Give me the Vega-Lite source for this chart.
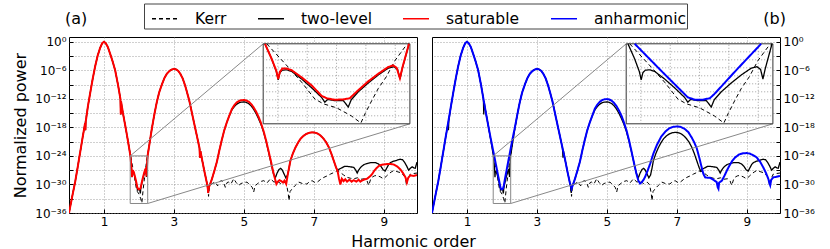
{
"$schema": "https://vega.github.io/schema/vega-lite/v6.json",
"padding": {"left": 12, "top": 3, "right": 0, "bottom": 0},
"bounds": "flush",
"spacing": 15,
"title": {"text": "Harmonic order", "orient": "bottom", "anchor": "middle", "fontSize": 16, "fontWeight": "normal", "font": "DejaVu Sans", "color": "black", "offset": 6},
"config": {
  "font": "DejaVu Sans",
  "view": {"stroke": "black", "strokeWidth": 1},
  "axis": {"labelFont": "DejaVu Sans", "labelFontSize": 12, "labelColor": "black", "gridColor": "#888", "gridDash": [1, 2], "gridWidth": 0.8, "domain": false, "tickColor": "black", "tickSize": -4, "labelPadding": 7, "titleFont": "DejaVu Sans", "titleFontSize": 16, "titleFontWeight": "normal", "titleColor": "black", "labelFlush": false, "labelOverlap": false},
  "title": {"font": "DejaVu Sans", "fontWeight": "normal", "fontSize": 16, "color": "black"}
},
"resolve": {"scale": {"color": "shared", "strokeDash": "shared"}},
"datasets": {
"zoom": [{"x1": 1.75, "x2": 2.25, "y1": 1e-34, "y2": 1e-24}],
"connectors": [{"x1": 1.75, "y1": 1e-24, "x2": 5.553, "y2": 0.372}, {"x1": 2.25, "y1": 1e-34, "x2": 9.748, "y2": 5.62e-18}],
"insetgridx": [{"harmonic": 1.8, "lo": 1e-34, "hi": 1e-24}, {"harmonic": 1.9, "lo": 1e-34, "hi": 1e-24}, {"harmonic": 2.0, "lo": 1e-34, "hi": 1e-24}, {"harmonic": 2.1, "lo": 1e-34, "hi": 1e-24}, {"harmonic": 2.2, "lo": 1e-34, "hi": 1e-24}],
"insetgridy": [{"power": 1e-25, "from": 1.75, "to": 2.25}, {"power": 1e-26, "from": 1.75, "to": 2.25}, {"power": 1e-27, "from": 1.75, "to": 2.25}, {"power": 1e-28, "from": 1.75, "to": 2.25}, {"power": 1e-29, "from": 1.75, "to": 2.25}, {"power": 1e-30, "from": 1.75, "to": 2.25}, {"power": 1e-31, "from": 1.75, "to": 2.25}, {"power": 1e-32, "from": 1.75, "to": 2.25}, {"power": 1e-33, "from": 1.75, "to": 2.25}],
"curves": [
{"model":"two-level","harmonic":0,"power":1e-36},
{"model":"two-level","harmonic":0.09,"power":2.51e-33},
{"model":"two-level","harmonic":0.18,"power":5.01e-30},
{"model":"two-level","harmonic":0.25,"power":5.01e-27},
{"model":"two-level","harmonic":0.32,"power":6.31e-24},
{"model":"two-level","harmonic":0.39,"power":7.94e-21},
{"model":"two-level","harmonic":0.46,"power":7.94e-18},
{"model":"two-level","harmonic":0.47,"power":2.51e-19},
{"model":"two-level","harmonic":0.48,"power":2e-17},
{"model":"two-level","harmonic":0.54,"power":2.51e-14},
{"model":"two-level","harmonic":0.61,"power":2.51e-11},
{"model":"two-level","harmonic":0.68,"power":2e-8},
{"model":"two-level","harmonic":0.75,"power":7.94e-6},
{"model":"two-level","harmonic":0.82,"power":1.26e-3},
{"model":"two-level","harmonic":0.89,"power":0.0501},
{"model":"two-level","harmonic":0.95,"power":0.501},
{"model":"two-level","harmonic":1,"power":1},
{"model":"two-level","harmonic":1.05,"power":0.501},
{"model":"two-level","harmonic":1.11,"power":0.0794},
{"model":"two-level","harmonic":1.18,"power":2.51e-3},
{"model":"two-level","harmonic":1.25,"power":6.31e-5},
{"model":"two-level","harmonic":1.32,"power":1e-6},
{"model":"two-level","harmonic":1.4,"power":1e-9},
{"model":"two-level","harmonic":1.47,"power":1e-12},
{"model":"two-level","harmonic":1.48,"power":5.01e-16},
{"model":"two-level","harmonic":1.49,"power":2.51e-13},
{"model":"two-level","harmonic":1.54,"power":1.26e-15},
{"model":"two-level","harmonic":1.61,"power":2e-18},
{"model":"two-level","harmonic":1.68,"power":2.51e-21},
{"model":"two-level","harmonic":1.756,"power":1e-24},
{"model":"two-level","harmonic":1.779,"power":1.26e-26},
{"model":"two-level","harmonic":1.795,"power":3.16e-28},
{"model":"two-level","harmonic":1.801,"power":3.16e-29},
{"model":"two-level","harmonic":1.807,"power":2.51e-28},
{"model":"two-level","harmonic":1.815,"power":5.01e-28},
{"model":"two-level","harmonic":1.83,"power":5.62e-28},
{"model":"two-level","harmonic":1.847,"power":3.55e-28},
{"model":"two-level","harmonic":1.881,"power":3.98e-29},
{"model":"two-level","harmonic":1.915,"power":3.16e-30},
{"model":"two-level","harmonic":1.949,"power":2e-31},
{"model":"two-level","harmonic":1.96,"power":5.01e-32},
{"model":"two-level","harmonic":1.97,"power":1.12e-31},
{"model":"two-level","harmonic":1.994,"power":7.94e-32},
{"model":"two-level","harmonic":2.023,"power":7.94e-32},
{"model":"two-level","harmonic":2.04,"power":1.26e-32},
{"model":"two-level","harmonic":2.05,"power":1e-31},
{"model":"two-level","harmonic":2.074,"power":1e-30},
{"model":"two-level","harmonic":2.108,"power":1.26e-29},
{"model":"two-level","harmonic":2.142,"power":1.26e-28},
{"model":"two-level","harmonic":2.176,"power":8.91e-28},
{"model":"two-level","harmonic":2.195,"power":1.41e-27},
{"model":"two-level","harmonic":2.208,"power":6.31e-28},
{"model":"two-level","harmonic":2.216,"power":3.98e-29},
{"model":"two-level","harmonic":2.224,"power":7.94e-28},
{"model":"two-level","harmonic":2.247,"power":1e-24},
{"model":"two-level","harmonic":2.3,"power":3.16e-22},
{"model":"two-level","harmonic":2.37,"power":6.31e-19},
{"model":"two-level","harmonic":2.44,"power":5.01e-16},
{"model":"two-level","harmonic":2.51,"power":2e-13},
{"model":"two-level","harmonic":2.58,"power":2.51e-11},
{"model":"two-level","harmonic":2.66,"power":1.26e-9},
{"model":"two-level","harmonic":2.73,"power":2.51e-8},
{"model":"two-level","harmonic":2.8,"power":2e-7},
{"model":"two-level","harmonic":2.88,"power":7.94e-7},
{"model":"two-level","harmonic":2.95,"power":1.58e-6},
{"model":"two-level","harmonic":3,"power":2e-6},
{"model":"two-level","harmonic":3.06,"power":1.58e-6},
{"model":"two-level","harmonic":3.12,"power":7.94e-7},
{"model":"two-level","harmonic":3.18,"power":2e-7},
{"model":"two-level","harmonic":3.25,"power":2e-8},
{"model":"two-level","harmonic":3.32,"power":6.31e-10},
{"model":"two-level","harmonic":3.37,"power":3.16e-11},
{"model":"two-level","harmonic":3.44,"power":3.98e-13},
{"model":"two-level","harmonic":3.51,"power":1.58e-15},
{"model":"two-level","harmonic":3.58,"power":6.31e-18},
{"model":"two-level","harmonic":3.66,"power":1.26e-20},
{"model":"two-level","harmonic":3.73,"power":5.01e-23},
{"model":"two-level","harmonic":3.745,"power":3.98e-25},
{"model":"two-level","harmonic":3.76,"power":1e-23},
{"model":"two-level","harmonic":3.8,"power":2.51e-25},
{"model":"two-level","harmonic":3.87,"power":6.31e-28},
{"model":"two-level","harmonic":3.94,"power":2.51e-30},
{"model":"two-level","harmonic":3.97,"power":1.26e-31},
{"model":"two-level","harmonic":3.98,"power":1.58e-32},
{"model":"two-level","harmonic":4,"power":2.51e-31},
{"model":"two-level","harmonic":4.08,"power":1e-29},
{"model":"two-level","harmonic":4.15,"power":5.01e-28},
{"model":"two-level","harmonic":4.23,"power":6.31e-26},
{"model":"two-level","harmonic":4.3,"power":1.58e-23},
{"model":"two-level","harmonic":4.37,"power":2.51e-21},
{"model":"two-level","harmonic":4.44,"power":2.51e-19},
{"model":"two-level","harmonic":4.51,"power":1e-17},
{"model":"two-level","harmonic":4.58,"power":2.51e-16},
{"model":"two-level","harmonic":4.66,"power":5.01e-15},
{"model":"two-level","harmonic":4.73,"power":2.51e-14},
{"model":"two-level","harmonic":4.8,"power":7.94e-14},
{"model":"two-level","harmonic":4.87,"power":1.58e-13},
{"model":"two-level","harmonic":4.93,"power":2e-13},
{"model":"two-level","harmonic":5,"power":2.24e-13},
{"model":"two-level","harmonic":5.07,"power":1.78e-13},
{"model":"two-level","harmonic":5.14,"power":1e-13},
{"model":"two-level","harmonic":5.21,"power":3.16e-14},
{"model":"two-level","harmonic":5.28,"power":6.31e-15},
{"model":"two-level","harmonic":5.35,"power":7.94e-16},
{"model":"two-level","harmonic":5.42,"power":6.31e-17},
{"model":"two-level","harmonic":5.49,"power":3.98e-18},
{"model":"two-level","harmonic":5.56,"power":1.26e-19},
{"model":"two-level","harmonic":5.63,"power":1.58e-21},
{"model":"two-level","harmonic":5.7,"power":1e-23},
{"model":"two-level","harmonic":5.77,"power":5.01e-26},
{"model":"two-level","harmonic":5.84,"power":2.51e-28},
{"model":"two-level","harmonic":5.9,"power":2.51e-29},
{"model":"two-level","harmonic":5.95,"power":2.51e-28},
{"model":"two-level","harmonic":6,"power":1.26e-27},
{"model":"two-level","harmonic":6.05,"power":2.51e-27},
{"model":"two-level","harmonic":6.1,"power":1e-27},
{"model":"two-level","harmonic":6.15,"power":1.58e-28},
{"model":"two-level","harmonic":6.2,"power":2.51e-29},
{"model":"two-level","harmonic":6.25,"power":1e-28},
{"model":"two-level","harmonic":6.29,"power":2.51e-27},
{"model":"two-level","harmonic":6.33,"power":1e-25},
{"model":"two-level","harmonic":6.4,"power":3.16e-24},
{"model":"two-level","harmonic":6.47,"power":5.01e-23},
{"model":"two-level","harmonic":6.55,"power":6.31e-22},
{"model":"two-level","harmonic":6.62,"power":3.98e-21},
{"model":"two-level","harmonic":6.7,"power":1.58e-20},
{"model":"two-level","harmonic":6.78,"power":3.98e-20},
{"model":"two-level","harmonic":6.86,"power":7.08e-20},
{"model":"two-level","harmonic":6.95,"power":8.91e-20},
{"model":"two-level","harmonic":7.03,"power":7.94e-20},
{"model":"two-level","harmonic":7.11,"power":5.01e-20},
{"model":"two-level","harmonic":7.19,"power":2e-20},
{"model":"two-level","harmonic":7.27,"power":5.01e-21},
{"model":"two-level","harmonic":7.35,"power":7.94e-22},
{"model":"two-level","harmonic":7.43,"power":6.31e-23},
{"model":"two-level","harmonic":7.5,"power":3.16e-24},
{"model":"two-level","harmonic":7.57,"power":1e-25},
{"model":"two-level","harmonic":7.63,"power":5.01e-27},
{"model":"two-level","harmonic":7.68,"power":6.31e-28},
{"model":"two-level","harmonic":7.72,"power":1.58e-27},
{"model":"two-level","harmonic":7.8,"power":3.16e-27},
{"model":"two-level","harmonic":7.88,"power":6.31e-27},
{"model":"two-level","harmonic":7.95,"power":6.31e-27},
{"model":"two-level","harmonic":8.05,"power":5.01e-27},
{"model":"two-level","harmonic":8.14,"power":3.98e-27},
{"model":"two-level","harmonic":8.2,"power":1e-27},
{"model":"two-level","harmonic":8.24,"power":2.51e-28},
{"model":"two-level","harmonic":8.28,"power":1e-27},
{"model":"two-level","harmonic":8.35,"power":5.01e-27},
{"model":"two-level","harmonic":8.44,"power":1.58e-26},
{"model":"two-level","harmonic":8.52,"power":2.51e-26},
{"model":"two-level","harmonic":8.64,"power":3.98e-26},
{"model":"two-level","harmonic":8.76,"power":3.98e-26},
{"model":"two-level","harmonic":8.85,"power":2e-26},
{"model":"two-level","harmonic":8.92,"power":6.31e-27},
{"model":"two-level","harmonic":8.98,"power":1.26e-27},
{"model":"two-level","harmonic":9.04,"power":6.31e-28},
{"model":"two-level","harmonic":9.09,"power":3.16e-27},
{"model":"two-level","harmonic":9.14,"power":1.58e-26},
{"model":"two-level","harmonic":9.19,"power":3.98e-26},
{"model":"two-level","harmonic":9.28,"power":7.94e-26},
{"model":"two-level","harmonic":9.38,"power":1.26e-25},
{"model":"two-level","harmonic":9.47,"power":2e-25},
{"model":"two-level","harmonic":9.54,"power":1.58e-25},
{"model":"two-level","harmonic":9.6,"power":3.98e-26},
{"model":"two-level","harmonic":9.66,"power":6.31e-27},
{"model":"two-level","harmonic":9.71,"power":1e-27},
{"model":"two-level","harmonic":9.76,"power":2.51e-27},
{"model":"two-level","harmonic":9.81,"power":5.01e-27},
{"model":"two-level","harmonic":9.86,"power":3.16e-27},
{"model":"two-level","harmonic":9.9,"power":2.51e-27},
{"model":"two-level","harmonic":9.95,"power":5.01e-26},

{"model":"saturable","harmonic":0,"power":1e-36},
{"model":"saturable","harmonic":0.09,"power":2.51e-33},
{"model":"saturable","harmonic":0.18,"power":5.01e-30},
{"model":"saturable","harmonic":0.25,"power":5.01e-27},
{"model":"saturable","harmonic":0.32,"power":6.31e-24},
{"model":"saturable","harmonic":0.39,"power":7.94e-21},
{"model":"saturable","harmonic":0.46,"power":7.94e-18},
{"model":"saturable","harmonic":0.47,"power":2.51e-19},
{"model":"saturable","harmonic":0.48,"power":2e-17},
{"model":"saturable","harmonic":0.54,"power":2.51e-14},
{"model":"saturable","harmonic":0.61,"power":2.51e-11},
{"model":"saturable","harmonic":0.68,"power":2e-8},
{"model":"saturable","harmonic":0.75,"power":7.94e-6},
{"model":"saturable","harmonic":0.82,"power":1.26e-3},
{"model":"saturable","harmonic":0.89,"power":0.0501},
{"model":"saturable","harmonic":0.95,"power":0.501},
{"model":"saturable","harmonic":1,"power":1},
{"model":"saturable","harmonic":1.05,"power":0.501},
{"model":"saturable","harmonic":1.11,"power":0.0794},
{"model":"saturable","harmonic":1.18,"power":2.51e-3},
{"model":"saturable","harmonic":1.25,"power":6.31e-5},
{"model":"saturable","harmonic":1.32,"power":1e-6},
{"model":"saturable","harmonic":1.4,"power":1e-9},
{"model":"saturable","harmonic":1.47,"power":1e-12},
{"model":"saturable","harmonic":1.48,"power":5.01e-16},
{"model":"saturable","harmonic":1.49,"power":2.51e-13},
{"model":"saturable","harmonic":1.54,"power":1.26e-15},
{"model":"saturable","harmonic":1.61,"power":2e-18},
{"model":"saturable","harmonic":1.68,"power":2.51e-21},
{"model":"saturable","harmonic":1.756,"power":1e-24},
{"model":"saturable","harmonic":1.779,"power":1.26e-26},
{"model":"saturable","harmonic":1.795,"power":3.98e-28},
{"model":"saturable","harmonic":1.801,"power":3.98e-29},
{"model":"saturable","harmonic":1.807,"power":3.16e-28},
{"model":"saturable","harmonic":1.815,"power":7.94e-28},
{"model":"saturable","harmonic":1.83,"power":7.94e-28},
{"model":"saturable","harmonic":1.847,"power":5.01e-28},
{"model":"saturable","harmonic":1.881,"power":6.31e-29},
{"model":"saturable","harmonic":1.915,"power":6.31e-30},
{"model":"saturable","harmonic":1.949,"power":3.16e-31},
{"model":"saturable","harmonic":1.966,"power":1.58e-31},
{"model":"saturable","harmonic":1.994,"power":1e-31},
{"model":"saturable","harmonic":2.023,"power":1.12e-31},
{"model":"saturable","harmonic":2.045,"power":1.58e-31},
{"model":"saturable","harmonic":2.074,"power":1.58e-30},
{"model":"saturable","harmonic":2.108,"power":2e-29},
{"model":"saturable","harmonic":2.142,"power":1.78e-28},
{"model":"saturable","harmonic":2.176,"power":1.26e-27},
{"model":"saturable","harmonic":2.193,"power":2e-27},
{"model":"saturable","harmonic":2.205,"power":1e-27},
{"model":"saturable","harmonic":2.216,"power":5.01e-29},
{"model":"saturable","harmonic":2.225,"power":1.26e-27},
{"model":"saturable","harmonic":2.247,"power":1e-24},
{"model":"saturable","harmonic":2.3,"power":3.16e-22},
{"model":"saturable","harmonic":2.37,"power":6.31e-19},
{"model":"saturable","harmonic":2.44,"power":5.01e-16},
{"model":"saturable","harmonic":2.51,"power":2e-13},
{"model":"saturable","harmonic":2.58,"power":2.51e-11},
{"model":"saturable","harmonic":2.66,"power":1.26e-9},
{"model":"saturable","harmonic":2.73,"power":2.51e-8},
{"model":"saturable","harmonic":2.8,"power":2e-7},
{"model":"saturable","harmonic":2.88,"power":7.94e-7},
{"model":"saturable","harmonic":2.95,"power":1.58e-6},
{"model":"saturable","harmonic":3,"power":2e-6},
{"model":"saturable","harmonic":3.06,"power":1.58e-6},
{"model":"saturable","harmonic":3.12,"power":7.94e-7},
{"model":"saturable","harmonic":3.18,"power":2e-7},
{"model":"saturable","harmonic":3.25,"power":2e-8},
{"model":"saturable","harmonic":3.32,"power":6.31e-10},
{"model":"saturable","harmonic":3.37,"power":3.16e-11},
{"model":"saturable","harmonic":3.44,"power":3.98e-13},
{"model":"saturable","harmonic":3.51,"power":1.58e-15},
{"model":"saturable","harmonic":3.58,"power":6.31e-18},
{"model":"saturable","harmonic":3.66,"power":1.26e-20},
{"model":"saturable","harmonic":3.73,"power":5.01e-23},
{"model":"saturable","harmonic":3.745,"power":3.98e-25},
{"model":"saturable","harmonic":3.76,"power":1e-23},
{"model":"saturable","harmonic":3.8,"power":2.51e-25},
{"model":"saturable","harmonic":3.87,"power":6.31e-28},
{"model":"saturable","harmonic":3.94,"power":2.51e-30},
{"model":"saturable","harmonic":3.97,"power":1.26e-31},
{"model":"saturable","harmonic":3.98,"power":1.58e-32},
{"model":"saturable","harmonic":4,"power":2.51e-31},
{"model":"saturable","harmonic":4.08,"power":1e-29},
{"model":"saturable","harmonic":4.15,"power":5.01e-28},
{"model":"saturable","harmonic":4.23,"power":6.31e-26},
{"model":"saturable","harmonic":4.3,"power":1.58e-23},
{"model":"saturable","harmonic":4.37,"power":2.51e-21},
{"model":"saturable","harmonic":4.44,"power":2.51e-19},
{"model":"saturable","harmonic":4.51,"power":1e-17},
{"model":"saturable","harmonic":4.58,"power":2.51e-16},
{"model":"saturable","harmonic":4.66,"power":7.94e-15},
{"model":"saturable","harmonic":4.73,"power":5.01e-14},
{"model":"saturable","harmonic":4.8,"power":2e-13},
{"model":"saturable","harmonic":4.87,"power":3.98e-13},
{"model":"saturable","harmonic":4.93,"power":5.01e-13},
{"model":"saturable","harmonic":5,"power":5.62e-13},
{"model":"saturable","harmonic":5.07,"power":4.47e-13},
{"model":"saturable","harmonic":5.14,"power":2.51e-13},
{"model":"saturable","harmonic":5.21,"power":7.94e-14},
{"model":"saturable","harmonic":5.28,"power":1.58e-14},
{"model":"saturable","harmonic":5.35,"power":2e-15},
{"model":"saturable","harmonic":5.42,"power":1.58e-16},
{"model":"saturable","harmonic":5.49,"power":7.94e-18},
{"model":"saturable","harmonic":5.56,"power":2e-19},
{"model":"saturable","harmonic":5.63,"power":2.51e-21},
{"model":"saturable","harmonic":5.7,"power":1.58e-23},
{"model":"saturable","harmonic":5.77,"power":1e-25},
{"model":"saturable","harmonic":5.84,"power":3.98e-28},
{"model":"saturable","harmonic":5.9,"power":7.94e-30},
{"model":"saturable","harmonic":5.93,"power":1.26e-30},
{"model":"saturable","harmonic":5.97,"power":3.98e-30},
{"model":"saturable","harmonic":6.02,"power":7.94e-30},
{"model":"saturable","harmonic":6.07,"power":5.01e-30},
{"model":"saturable","harmonic":6.12,"power":2.51e-30},
{"model":"saturable","harmonic":6.16,"power":6.31e-30},
{"model":"saturable","harmonic":6.19,"power":2.51e-30},
{"model":"saturable","harmonic":6.21,"power":1.26e-30},
{"model":"saturable","harmonic":6.25,"power":7.94e-29},
{"model":"saturable","harmonic":6.29,"power":2.51e-27},
{"model":"saturable","harmonic":6.33,"power":1e-25},
{"model":"saturable","harmonic":6.4,"power":3.16e-24},
{"model":"saturable","harmonic":6.47,"power":5.01e-23},
{"model":"saturable","harmonic":6.55,"power":6.31e-22},
{"model":"saturable","harmonic":6.62,"power":3.98e-21},
{"model":"saturable","harmonic":6.7,"power":1.58e-20},
{"model":"saturable","harmonic":6.78,"power":3.98e-20},
{"model":"saturable","harmonic":6.86,"power":7.08e-20},
{"model":"saturable","harmonic":6.95,"power":8.91e-20},
{"model":"saturable","harmonic":7.03,"power":7.94e-20},
{"model":"saturable","harmonic":7.11,"power":5.01e-20},
{"model":"saturable","harmonic":7.19,"power":2e-20},
{"model":"saturable","harmonic":7.27,"power":5.01e-21},
{"model":"saturable","harmonic":7.35,"power":7.94e-22},
{"model":"saturable","harmonic":7.43,"power":6.31e-23},
{"model":"saturable","harmonic":7.5,"power":3.16e-24},
{"model":"saturable","harmonic":7.57,"power":1e-25},
{"model":"saturable","harmonic":7.63,"power":5.01e-27},
{"model":"saturable","harmonic":7.68,"power":6.31e-28},
{"model":"saturable","harmonic":7.72,"power":1.58e-29},
{"model":"saturable","harmonic":7.76,"power":1e-30},
{"model":"saturable","harmonic":7.8,"power":1.58e-29},
{"model":"saturable","harmonic":7.85,"power":5.01e-30},
{"model":"saturable","harmonic":7.9,"power":1.26e-29},
{"model":"saturable","harmonic":7.95,"power":3.98e-30},
{"model":"saturable","harmonic":8.02,"power":1e-29},
{"model":"saturable","harmonic":8.08,"power":3.98e-30},
{"model":"saturable","harmonic":8.14,"power":7.94e-30},
{"model":"saturable","harmonic":8.22,"power":3.98e-30},
{"model":"saturable","harmonic":8.28,"power":1e-29},
{"model":"saturable","harmonic":8.33,"power":3.98e-30},
{"model":"saturable","harmonic":8.4,"power":7.94e-30},
{"model":"saturable","harmonic":8.46,"power":1.26e-29},
{"model":"saturable","harmonic":8.52,"power":1.58e-29},
{"model":"saturable","harmonic":8.59,"power":3.98e-29},
{"model":"saturable","harmonic":8.66,"power":1.26e-28},
{"model":"saturable","harmonic":8.73,"power":7.94e-28},
{"model":"saturable","harmonic":8.8,"power":3.16e-27},
{"model":"saturable","harmonic":8.88,"power":1e-26},
{"model":"saturable","harmonic":8.99,"power":1.58e-26},
{"model":"saturable","harmonic":9.1,"power":2e-26},
{"model":"saturable","harmonic":9.2,"power":2e-26},
{"model":"saturable","harmonic":9.28,"power":1.58e-26},
{"model":"saturable","harmonic":9.38,"power":6.31e-27},
{"model":"saturable","harmonic":9.47,"power":1.58e-27},
{"model":"saturable","harmonic":9.55,"power":2.51e-28},
{"model":"saturable","harmonic":9.62,"power":3.16e-29},
{"model":"saturable","harmonic":9.66,"power":2.51e-30},
{"model":"saturable","harmonic":9.7,"power":2.51e-29},
{"model":"saturable","harmonic":9.76,"power":7.94e-29},
{"model":"saturable","harmonic":9.85,"power":6.31e-29},
{"model":"saturable","harmonic":9.95,"power":1e-28},

{"model":"anharmonic","harmonic":0,"power":1e-36},
{"model":"anharmonic","harmonic":0.09,"power":2.51e-33},
{"model":"anharmonic","harmonic":0.18,"power":5.01e-30},
{"model":"anharmonic","harmonic":0.25,"power":5.01e-27},
{"model":"anharmonic","harmonic":0.32,"power":6.31e-24},
{"model":"anharmonic","harmonic":0.39,"power":7.94e-21},
{"model":"anharmonic","harmonic":0.46,"power":7.94e-18},
{"model":"anharmonic","harmonic":0.54,"power":2.51e-14},
{"model":"anharmonic","harmonic":0.61,"power":2.51e-11},
{"model":"anharmonic","harmonic":0.68,"power":2e-8},
{"model":"anharmonic","harmonic":0.75,"power":7.94e-6},
{"model":"anharmonic","harmonic":0.82,"power":1.26e-3},
{"model":"anharmonic","harmonic":0.89,"power":0.0501},
{"model":"anharmonic","harmonic":0.95,"power":0.501},
{"model":"anharmonic","harmonic":1,"power":1},
{"model":"anharmonic","harmonic":1.05,"power":0.501},
{"model":"anharmonic","harmonic":1.11,"power":0.0794},
{"model":"anharmonic","harmonic":1.18,"power":2.51e-3},
{"model":"anharmonic","harmonic":1.25,"power":6.31e-5},
{"model":"anharmonic","harmonic":1.32,"power":1e-6},
{"model":"anharmonic","harmonic":1.4,"power":1e-9},
{"model":"anharmonic","harmonic":1.47,"power":1e-12},
{"model":"anharmonic","harmonic":1.54,"power":1.26e-15},
{"model":"anharmonic","harmonic":1.61,"power":2e-18},
{"model":"anharmonic","harmonic":1.68,"power":3.98e-21},
{"model":"anharmonic","harmonic":1.779,"power":1e-24},
{"model":"anharmonic","harmonic":1.87,"power":3.98e-28},
{"model":"anharmonic","harmonic":1.96,"power":2e-31},
{"model":"anharmonic","harmonic":1.985,"power":1e-31},
{"model":"anharmonic","harmonic":2.01,"power":1e-31},
{"model":"anharmonic","harmonic":2.035,"power":1.58e-31},
{"model":"anharmonic","harmonic":2.05,"power":5.01e-31},
{"model":"anharmonic","harmonic":2.13,"power":7.94e-28},
{"model":"anharmonic","harmonic":2.21,"power":1e-24},
{"model":"anharmonic","harmonic":2.3,"power":3.16e-21},
{"model":"anharmonic","harmonic":2.37,"power":1e-18},
{"model":"anharmonic","harmonic":2.44,"power":5.01e-16},
{"model":"anharmonic","harmonic":2.51,"power":2e-13},
{"model":"anharmonic","harmonic":2.58,"power":2.51e-11},
{"model":"anharmonic","harmonic":2.66,"power":1.26e-9},
{"model":"anharmonic","harmonic":2.73,"power":2.51e-8},
{"model":"anharmonic","harmonic":2.8,"power":2e-7},
{"model":"anharmonic","harmonic":2.88,"power":7.94e-7},
{"model":"anharmonic","harmonic":2.95,"power":1.58e-6},
{"model":"anharmonic","harmonic":3,"power":2e-6},
{"model":"anharmonic","harmonic":3.06,"power":1.58e-6},
{"model":"anharmonic","harmonic":3.12,"power":7.94e-7},
{"model":"anharmonic","harmonic":3.18,"power":2e-7},
{"model":"anharmonic","harmonic":3.25,"power":2e-8},
{"model":"anharmonic","harmonic":3.32,"power":6.31e-10},
{"model":"anharmonic","harmonic":3.37,"power":3.16e-11},
{"model":"anharmonic","harmonic":3.44,"power":3.98e-13},
{"model":"anharmonic","harmonic":3.51,"power":1.58e-15},
{"model":"anharmonic","harmonic":3.58,"power":6.31e-18},
{"model":"anharmonic","harmonic":3.66,"power":1.26e-20},
{"model":"anharmonic","harmonic":3.73,"power":5.01e-23},
{"model":"anharmonic","harmonic":3.8,"power":2.51e-25},
{"model":"anharmonic","harmonic":3.87,"power":6.31e-28},
{"model":"anharmonic","harmonic":3.94,"power":2.51e-30},
{"model":"anharmonic","harmonic":3.99,"power":1.26e-31},
{"model":"anharmonic","harmonic":4.08,"power":1e-29},
{"model":"anharmonic","harmonic":4.15,"power":5.01e-28},
{"model":"anharmonic","harmonic":4.23,"power":6.31e-26},
{"model":"anharmonic","harmonic":4.3,"power":1.58e-23},
{"model":"anharmonic","harmonic":4.37,"power":2.51e-21},
{"model":"anharmonic","harmonic":4.44,"power":2.51e-19},
{"model":"anharmonic","harmonic":4.51,"power":1e-17},
{"model":"anharmonic","harmonic":4.58,"power":2.51e-16},
{"model":"anharmonic","harmonic":4.66,"power":1e-14},
{"model":"anharmonic","harmonic":4.73,"power":6.31e-14},
{"model":"anharmonic","harmonic":4.8,"power":2.51e-13},
{"model":"anharmonic","harmonic":4.87,"power":5.62e-13},
{"model":"anharmonic","harmonic":4.93,"power":7.94e-13},
{"model":"anharmonic","harmonic":5,"power":8.91e-13},
{"model":"anharmonic","harmonic":5.07,"power":7.08e-13},
{"model":"anharmonic","harmonic":5.14,"power":3.98e-13},
{"model":"anharmonic","harmonic":5.21,"power":1.26e-13},
{"model":"anharmonic","harmonic":5.28,"power":2.51e-14},
{"model":"anharmonic","harmonic":5.35,"power":3.16e-15},
{"model":"anharmonic","harmonic":5.42,"power":2.51e-16},
{"model":"anharmonic","harmonic":5.49,"power":1e-17},
{"model":"anharmonic","harmonic":5.56,"power":2.51e-19},
{"model":"anharmonic","harmonic":5.63,"power":2.51e-21},
{"model":"anharmonic","harmonic":5.7,"power":1.26e-23},
{"model":"anharmonic","harmonic":5.77,"power":5.01e-26},
{"model":"anharmonic","harmonic":5.84,"power":2.51e-28},
{"model":"anharmonic","harmonic":5.9,"power":6.31e-30},
{"model":"anharmonic","harmonic":5.95,"power":1.58e-30},
{"model":"anharmonic","harmonic":6,"power":3.16e-30},
{"model":"anharmonic","harmonic":6.05,"power":1e-29},
{"model":"anharmonic","harmonic":6.1,"power":5.01e-29},
{"model":"anharmonic","harmonic":6.17,"power":1e-27},
{"model":"anharmonic","harmonic":6.24,"power":2.51e-26},
{"model":"anharmonic","harmonic":6.33,"power":3.16e-24},
{"model":"anharmonic","harmonic":6.43,"power":2e-22},
{"model":"anharmonic","harmonic":6.55,"power":1e-20},
{"model":"anharmonic","harmonic":6.67,"power":1.26e-19},
{"model":"anharmonic","harmonic":6.78,"power":6.31e-19},
{"model":"anharmonic","harmonic":6.89,"power":1.26e-18},
{"model":"anharmonic","harmonic":7,"power":1.58e-18},
{"model":"anharmonic","harmonic":7.11,"power":1.26e-18},
{"model":"anharmonic","harmonic":7.22,"power":5.01e-19},
{"model":"anharmonic","harmonic":7.33,"power":1e-19},
{"model":"anharmonic","harmonic":7.43,"power":6.31e-21},
{"model":"anharmonic","harmonic":7.5,"power":6.31e-22},
{"model":"anharmonic","harmonic":7.57,"power":3.98e-23},
{"model":"anharmonic","harmonic":7.64,"power":5.01e-25},
{"model":"anharmonic","harmonic":7.71,"power":3.98e-27},
{"model":"anharmonic","harmonic":7.76,"power":1.58e-28},
{"model":"anharmonic","harmonic":7.81,"power":3.16e-29},
{"model":"anharmonic","harmonic":7.88,"power":2.51e-29},
{"model":"anharmonic","harmonic":7.95,"power":2.51e-29},
{"model":"anharmonic","harmonic":8.02,"power":1.26e-29},
{"model":"anharmonic","harmonic":8.08,"power":6.31e-30},
{"model":"anharmonic","harmonic":8.14,"power":3.16e-30},
{"model":"anharmonic","harmonic":8.17,"power":2.51e-31},
{"model":"anharmonic","harmonic":8.19,"power":1.26e-31},
{"model":"anharmonic","harmonic":8.21,"power":2.51e-30},
{"model":"anharmonic","harmonic":8.25,"power":3.98e-30},
{"model":"anharmonic","harmonic":8.29,"power":6.31e-30},
{"model":"anharmonic","harmonic":8.36,"power":6.31e-29},
{"model":"anharmonic","harmonic":8.43,"power":7.94e-28},
{"model":"anharmonic","harmonic":8.5,"power":7.94e-27},
{"model":"anharmonic","harmonic":8.58,"power":7.94e-26},
{"model":"anharmonic","harmonic":8.67,"power":5.01e-25},
{"model":"anharmonic","harmonic":8.78,"power":2e-24},
{"model":"anharmonic","harmonic":8.89,"power":3.55e-24},
{"model":"anharmonic","harmonic":9,"power":3.98e-24},
{"model":"anharmonic","harmonic":9.1,"power":2.82e-24},
{"model":"anharmonic","harmonic":9.19,"power":1.26e-24},
{"model":"anharmonic","harmonic":9.28,"power":5.01e-25},
{"model":"anharmonic","harmonic":9.38,"power":6.31e-26},
{"model":"anharmonic","harmonic":9.47,"power":3.98e-27},
{"model":"anharmonic","harmonic":9.55,"power":2.51e-28},
{"model":"anharmonic","harmonic":9.62,"power":1.26e-29},
{"model":"anharmonic","harmonic":9.65,"power":1.58e-30},
{"model":"anharmonic","harmonic":9.67,"power":6.31e-31},
{"model":"anharmonic","harmonic":9.7,"power":1e-29},
{"model":"anharmonic","harmonic":9.76,"power":3.16e-29},
{"model":"anharmonic","harmonic":9.85,"power":3.98e-29},
{"model":"anharmonic","harmonic":9.95,"power":6.31e-29},

{"model":"Kerr","harmonic":0,"power":1e-36},
{"model":"Kerr","harmonic":0.09,"power":2.51e-33},
{"model":"Kerr","harmonic":0.18,"power":5.01e-30},
{"model":"Kerr","harmonic":0.25,"power":5.01e-27},
{"model":"Kerr","harmonic":0.32,"power":6.31e-24},
{"model":"Kerr","harmonic":0.39,"power":7.94e-21},
{"model":"Kerr","harmonic":0.46,"power":7.94e-18},
{"model":"Kerr","harmonic":0.54,"power":2.51e-14},
{"model":"Kerr","harmonic":0.61,"power":2.51e-11},
{"model":"Kerr","harmonic":0.68,"power":2e-8},
{"model":"Kerr","harmonic":0.75,"power":7.94e-6},
{"model":"Kerr","harmonic":0.82,"power":1.26e-3},
{"model":"Kerr","harmonic":0.89,"power":0.0501},
{"model":"Kerr","harmonic":0.95,"power":0.501},
{"model":"Kerr","harmonic":1,"power":1},
{"model":"Kerr","harmonic":1.05,"power":0.501},
{"model":"Kerr","harmonic":1.11,"power":0.0794},
{"model":"Kerr","harmonic":1.18,"power":2.51e-3},
{"model":"Kerr","harmonic":1.25,"power":6.31e-5},
{"model":"Kerr","harmonic":1.32,"power":1e-6},
{"model":"Kerr","harmonic":1.4,"power":1e-9},
{"model":"Kerr","harmonic":1.47,"power":1e-12},
{"model":"Kerr","harmonic":1.54,"power":1.26e-15},
{"model":"Kerr","harmonic":1.61,"power":2e-18},
{"model":"Kerr","harmonic":1.68,"power":2.51e-21},
{"model":"Kerr","harmonic":1.762,"power":1e-24},
{"model":"Kerr","harmonic":1.835,"power":1.26e-27},
{"model":"Kerr","harmonic":1.881,"power":1.58e-29},
{"model":"Kerr","harmonic":1.926,"power":1.26e-31},
{"model":"Kerr","harmonic":1.955,"power":3.16e-32},
{"model":"Kerr","harmonic":2,"power":1e-32},
{"model":"Kerr","harmonic":2.05,"power":1e-33},
{"model":"Kerr","harmonic":2.083,"power":1.26e-34},
{"model":"Kerr","harmonic":2.097,"power":1.78e-33},
{"model":"Kerr","harmonic":2.12,"power":7.94e-32},
{"model":"Kerr","harmonic":2.142,"power":2.51e-30},
{"model":"Kerr","harmonic":2.17,"power":7.94e-29},
{"model":"Kerr","harmonic":2.199,"power":7.94e-27},
{"model":"Kerr","harmonic":2.233,"power":3.98e-25},
{"model":"Kerr","harmonic":2.247,"power":1e-24},
{"model":"Kerr","harmonic":2.3,"power":3.16e-22},
{"model":"Kerr","harmonic":2.37,"power":6.31e-19},
{"model":"Kerr","harmonic":2.44,"power":5.01e-16},
{"model":"Kerr","harmonic":2.51,"power":2e-13},
{"model":"Kerr","harmonic":2.58,"power":2.51e-11},
{"model":"Kerr","harmonic":2.66,"power":1.26e-9},
{"model":"Kerr","harmonic":2.73,"power":2.51e-8},
{"model":"Kerr","harmonic":2.8,"power":2e-7},
{"model":"Kerr","harmonic":2.88,"power":7.94e-7},
{"model":"Kerr","harmonic":2.95,"power":1.58e-6},
{"model":"Kerr","harmonic":3,"power":2e-6},
{"model":"Kerr","harmonic":3.06,"power":1.58e-6},
{"model":"Kerr","harmonic":3.12,"power":7.94e-7},
{"model":"Kerr","harmonic":3.18,"power":2e-7},
{"model":"Kerr","harmonic":3.25,"power":2e-8},
{"model":"Kerr","harmonic":3.32,"power":6.31e-10},
{"model":"Kerr","harmonic":3.37,"power":3.16e-11},
{"model":"Kerr","harmonic":3.44,"power":3.98e-13},
{"model":"Kerr","harmonic":3.51,"power":1.58e-15},
{"model":"Kerr","harmonic":3.58,"power":6.31e-18},
{"model":"Kerr","harmonic":3.66,"power":1.26e-20},
{"model":"Kerr","harmonic":3.73,"power":5.01e-23},
{"model":"Kerr","harmonic":3.8,"power":2.51e-25},
{"model":"Kerr","harmonic":3.87,"power":6.31e-28},
{"model":"Kerr","harmonic":3.94,"power":2.51e-30},
{"model":"Kerr","harmonic":3.97,"power":1e-31},
{"model":"Kerr","harmonic":3.99,"power":3.16e-33},
{"model":"Kerr","harmonic":4.01,"power":2.51e-31},
{"model":"Kerr","harmonic":4.06,"power":1e-30},
{"model":"Kerr","harmonic":4.12,"power":2e-30},
{"model":"Kerr","harmonic":4.18,"power":3.16e-30},
{"model":"Kerr","harmonic":4.25,"power":5.01e-31},
{"model":"Kerr","harmonic":4.3,"power":3.98e-30},
{"model":"Kerr","harmonic":4.37,"power":6.31e-30},
{"model":"Kerr","harmonic":4.43,"power":1.58e-30},
{"model":"Kerr","harmonic":4.47,"power":2.51e-31},
{"model":"Kerr","harmonic":4.52,"power":2.51e-30},
{"model":"Kerr","harmonic":4.56,"power":3.16e-30},
{"model":"Kerr","harmonic":4.63,"power":1.26e-30},
{"model":"Kerr","harmonic":4.71,"power":1.58e-29},
{"model":"Kerr","harmonic":4.78,"power":2.51e-30},
{"model":"Kerr","harmonic":4.85,"power":6.31e-31},
{"model":"Kerr","harmonic":4.92,"power":1.58e-30},
{"model":"Kerr","harmonic":5,"power":2.51e-30},
{"model":"Kerr","harmonic":5.09,"power":3.16e-30},
{"model":"Kerr","harmonic":5.18,"power":6.31e-31},
{"model":"Kerr","harmonic":5.24,"power":2.51e-31},
{"model":"Kerr","harmonic":5.28,"power":2.51e-32},
{"model":"Kerr","harmonic":5.32,"power":5.01e-31},
{"model":"Kerr","harmonic":5.38,"power":1.26e-30},
{"model":"Kerr","harmonic":5.47,"power":3.98e-30},
{"model":"Kerr","harmonic":5.57,"power":6.31e-30},
{"model":"Kerr","harmonic":5.66,"power":2e-30},
{"model":"Kerr","harmonic":5.76,"power":1.58e-29},
{"model":"Kerr","harmonic":5.86,"power":3.16e-30},
{"model":"Kerr","harmonic":5.95,"power":5.01e-30},
{"model":"Kerr","harmonic":6.05,"power":1.58e-30},
{"model":"Kerr","harmonic":6.15,"power":3.16e-30},
{"model":"Kerr","harmonic":6.22,"power":1e-30},
{"model":"Kerr","harmonic":6.27,"power":1e-32},
{"model":"Kerr","harmonic":6.29,"power":3.98e-34},
{"model":"Kerr","harmonic":6.32,"power":3.16e-32},
{"model":"Kerr","harmonic":6.38,"power":1.26e-31},
{"model":"Kerr","harmonic":6.47,"power":6.31e-31},
{"model":"Kerr","harmonic":6.57,"power":3.16e-30},
{"model":"Kerr","harmonic":6.67,"power":1.58e-30},
{"model":"Kerr","harmonic":6.8,"power":1.26e-30},
{"model":"Kerr","harmonic":6.88,"power":3.98e-30},
{"model":"Kerr","harmonic":6.95,"power":6.31e-30},
{"model":"Kerr","harmonic":7.03,"power":2.51e-30},
{"model":"Kerr","harmonic":7.1,"power":3.16e-30},
{"model":"Kerr","harmonic":7.2,"power":1.26e-29},
{"model":"Kerr","harmonic":7.29,"power":3.16e-29},
{"model":"Kerr","harmonic":7.38,"power":6.31e-29},
{"model":"Kerr","harmonic":7.48,"power":1.58e-28},
{"model":"Kerr","harmonic":7.57,"power":3.16e-28},
{"model":"Kerr","harmonic":7.67,"power":7.94e-28},
{"model":"Kerr","harmonic":7.76,"power":3.16e-28},
{"model":"Kerr","harmonic":7.85,"power":1e-28},
{"model":"Kerr","harmonic":7.95,"power":3.16e-29},
{"model":"Kerr","harmonic":8.05,"power":2e-29},
{"model":"Kerr","harmonic":8.14,"power":1.58e-29},
{"model":"Kerr","harmonic":8.25,"power":2.51e-29},
{"model":"Kerr","harmonic":8.35,"power":1.26e-29},
{"model":"Kerr","harmonic":8.45,"power":1.58e-29},
{"model":"Kerr","harmonic":8.52,"power":6.31e-30},
{"model":"Kerr","harmonic":8.57,"power":6.31e-31},
{"model":"Kerr","harmonic":8.62,"power":1e-29},
{"model":"Kerr","harmonic":8.66,"power":3.16e-29},
{"model":"Kerr","harmonic":8.73,"power":6.31e-29},
{"model":"Kerr","harmonic":8.8,"power":7.94e-29},
{"model":"Kerr","harmonic":8.9,"power":3.98e-29},
{"model":"Kerr","harmonic":8.99,"power":1.58e-29},
{"model":"Kerr","harmonic":9.07,"power":5.01e-29},
{"model":"Kerr","harmonic":9.14,"power":1.58e-28},
{"model":"Kerr","harmonic":9.21,"power":3.98e-28},
{"model":"Kerr","harmonic":9.28,"power":7.94e-28},
{"model":"Kerr","harmonic":9.38,"power":5.01e-28},
{"model":"Kerr","harmonic":9.47,"power":3.16e-28},
{"model":"Kerr","harmonic":9.55,"power":1e-28},
{"model":"Kerr","harmonic":9.62,"power":3.16e-29},
{"model":"Kerr","harmonic":9.65,"power":6.31e-31},
{"model":"Kerr","harmonic":9.68,"power":1e-29},
{"model":"Kerr","harmonic":9.76,"power":1.58e-28},
{"model":"Kerr","harmonic":9.85,"power":2e-28},
{"model":"Kerr","harmonic":9.95,"power":2.51e-28}
]
},
"hconcat": [
{
  "width": 348, "height": 176,
  "title": {"text": "(a)", "anchor": "start", "frame": "group", "offset": 9, "dx": -4},
  "resolve": {"scale": {"x": "independent", "y": "independent"}},
  "layer": [
    {
      "layer": [
        {
          "data": {"name": "curves"},
          "transform": [{"filter": "datum.model == 'Kerr'"}],
          "mark": {"type": "line", "strokeWidth": 1, "clip": true},
          "encoding": {
            "x": {"field": "harmonic", "type": "quantitative", "scale": {"domain": [0, 9.95], "nice": false, "zero": false}, "axis": {"values": [1, 3, 5, 7, 9], "title": null, "grid": true}},
            "y": {"field": "power", "type": "quantitative", "scale": {"type": "log", "domain": [1e-36, 10], "nice": false}, "axis": {"title": "Normalized power", "titlePadding": 6, "grid": true, "values": [1e-36, 1e-33, 1e-30, 1e-27, 1e-24, 1e-21, 1e-18, 1e-15, 1e-12, 1e-9, 1e-6, 1e-3, 1], "labelExpr": "(round(log(datum.value)/LN10) % 6 != 0) ? '' : round(log(datum.value)/LN10) == 0 ? '10⁰' : round(log(datum.value)/LN10) == -6 ? '10⁻⁶' : round(log(datum.value)/LN10) == -12 ? '10⁻¹²' : round(log(datum.value)/LN10) == -18 ? '10⁻¹⁸' : round(log(datum.value)/LN10) == -24 ? '10⁻²⁴' : round(log(datum.value)/LN10) == -30 ? '10⁻³⁰' : '10⁻³⁶'"}},
            "color": {"field": "model", "type": "nominal", "scale": {"domain": ["Kerr", "two-level", "saturable", "anharmonic"], "range": ["black", "black", "red", "blue"]}, "legend": {"orient": "none", "legendX": 75, "legendY": -33.5, "direction": "horizontal", "title": null, "symbolType": "stroke", "symbolSize": 676, "symbolStrokeWidth": 1.5, "symbolOffset": 6, "labelFontSize": 15.5, "labelFont": "DejaVu Sans", "labelColor": "black", "labelOffset": 16, "columnPadding": 24, "padding": 1, "strokeColor": "#444", "fillColor": "white"}},
            "strokeDash": {"field": "model", "type": "nominal", "scale": {"domain": ["Kerr", "two-level", "saturable", "anharmonic"], "range": [[4, 3], [1, 0], [1, 0], [1, 0]]}, "legend": {"orient": "none", "legendX": 75, "legendY": -33.5, "direction": "horizontal", "title": null, "symbolType": "stroke", "symbolSize": 676, "symbolStrokeWidth": 1.5, "symbolOffset": 6, "labelFontSize": 15.5, "labelFont": "DejaVu Sans", "labelColor": "black", "labelOffset": 16, "columnPadding": 24, "padding": 1, "strokeColor": "#444", "fillColor": "white"}}
          }
        },
        {
          "data": {"name": "curves"},
          "transform": [{"filter": "datum.model == 'two-level'"}],
          "mark": {"type": "line", "strokeWidth": 1.3, "clip": true},
          "encoding": {
            "x": {"field": "harmonic", "type": "quantitative", "scale": {"domain": [0, 9.95], "nice": false, "zero": false}},
            "y": {"field": "power", "type": "quantitative", "scale": {"type": "log", "domain": [1e-36, 10], "nice": false}},
            "color": {"field": "model", "type": "nominal"},
            "strokeDash": {"field": "model", "type": "nominal"}
          }
        },
        {
          "data": {"name": "curves"},
          "transform": [{"filter": "datum.model == 'saturable'"}],
          "mark": {"type": "line", "strokeWidth": 2, "clip": true},
          "encoding": {
            "x": {"field": "harmonic", "type": "quantitative", "scale": {"domain": [0, 9.95], "nice": false, "zero": false}},
            "y": {"field": "power", "type": "quantitative", "scale": {"type": "log", "domain": [1e-36, 10], "nice": false}},
            "color": {"field": "model", "type": "nominal"},
            "strokeDash": {"field": "model", "type": "nominal"}
          }
        },
        {
          "data": {"name": "zoom"},
          "mark": {"type": "rect", "fill": "transparent", "stroke": "#888", "strokeWidth": 1},
          "encoding": {
            "x": {"field": "x1", "type": "quantitative", "scale": {"domain": [0, 9.95], "nice": false, "zero": false}},
            "x2": {"field": "x2"},
            "y": {"field": "y1", "type": "quantitative", "scale": {"type": "log", "domain": [1e-36, 10], "nice": false}},
            "y2": {"field": "y2"}
          }
        },
        {
          "data": {"name": "connectors"},
          "mark": {"type": "rule", "color": "#888", "strokeWidth": 1},
          "encoding": {
            "x": {"field": "x1", "type": "quantitative", "scale": {"domain": [0, 9.95], "nice": false, "zero": false}},
            "x2": {"field": "x2"},
            "y": {"field": "y1", "type": "quantitative", "scale": {"type": "log", "domain": [1e-36, 10], "nice": false}},
            "y2": {"field": "y2"}
          }
        }
      ]
    },
    {
      "layer": [
        {
          "data": {"name": "zoom"},
          "mark": {"type": "rect", "fill": "white", "stroke": "#333", "strokeWidth": 1},
          "encoding": {
            "x": {"field": "x1", "type": "quantitative", "scale": {"domain": [1.0881, 2.2742], "nice": false, "zero": false}, "axis": null},
            "x2": {"field": "x2"},
            "y": {"field": "y1", "type": "quantitative", "scale": {"type": "log", "domain": [7.08e-46, 7.08e-24], "nice": false}, "axis": null},
            "y2": {"field": "y2"}
          }
        },
        {
          "data": {"name": "insetgridx"},
          "mark": {"type": "rule", "color": "#888", "strokeDash": [1, 2], "strokeWidth": 0.8},
          "encoding": {
            "x": {"field": "harmonic", "type": "quantitative", "scale": {"domain": [1.0881, 2.2742], "nice": false, "zero": false}, "axis": null},
            "y": {"field": "lo", "type": "quantitative", "scale": {"type": "log", "domain": [7.08e-46, 7.08e-24], "nice": false}, "axis": null},
            "y2": {"field": "hi"}
          }
        },
        {
          "data": {"name": "insetgridy"},
          "mark": {"type": "rule", "color": "#888", "strokeDash": [1, 2], "strokeWidth": 0.8},
          "encoding": {
            "y": {"field": "power", "type": "quantitative", "scale": {"type": "log", "domain": [7.08e-46, 7.08e-24], "nice": false}, "axis": null},
            "x": {"field": "from", "type": "quantitative", "scale": {"domain": [1.0881, 2.2742], "nice": false, "zero": false}, "axis": null},
            "x2": {"field": "to"}
          }
        },
        {
          "data": {"name": "curves"},
          "transform": [{"filter": "datum.model == 'Kerr' && datum.harmonic >= 1.755 && datum.harmonic <= 2.248"}],
          "mark": {"type": "line", "strokeWidth": 1},
          "encoding": {
            "x": {"field": "harmonic", "type": "quantitative", "scale": {"domain": [1.0881, 2.2742], "nice": false, "zero": false}, "axis": null},
            "y": {"field": "power", "type": "quantitative", "scale": {"type": "log", "domain": [7.08e-46, 7.08e-24], "nice": false}, "axis": null},
            "color": {"field": "model", "type": "nominal"},
            "strokeDash": {"field": "model", "type": "nominal"}
          }
        },
        {
          "data": {"name": "curves"},
          "transform": [{"filter": "datum.model == 'two-level' && datum.harmonic >= 1.755 && datum.harmonic <= 2.248"}],
          "mark": {"type": "line", "strokeWidth": 1.3},
          "encoding": {
            "x": {"field": "harmonic", "type": "quantitative", "scale": {"domain": [1.0881, 2.2742], "nice": false, "zero": false}, "axis": null},
            "y": {"field": "power", "type": "quantitative", "scale": {"type": "log", "domain": [7.08e-46, 7.08e-24], "nice": false}, "axis": null},
            "color": {"field": "model", "type": "nominal"},
            "strokeDash": {"field": "model", "type": "nominal"}
          }
        },
        {
          "data": {"name": "curves"},
          "transform": [{"filter": "datum.model == 'saturable' && datum.harmonic >= 1.755 && datum.harmonic <= 2.248"}],
          "mark": {"type": "line", "strokeWidth": 2},
          "encoding": {
            "x": {"field": "harmonic", "type": "quantitative", "scale": {"domain": [1.0881, 2.2742], "nice": false, "zero": false}, "axis": null},
            "y": {"field": "power", "type": "quantitative", "scale": {"type": "log", "domain": [7.08e-46, 7.08e-24], "nice": false}, "axis": null},
            "color": {"field": "model", "type": "nominal"},
            "strokeDash": {"field": "model", "type": "nominal"}
          }
        }
      ]
    }
  ]
},
{
  "width": 348, "height": 176,
  "title": {"text": "(b)", "anchor": "end", "frame": "group", "offset": 9, "dx": 6},
  "resolve": {"scale": {"x": "independent", "y": "independent"}},
  "layer": [
    {
      "layer": [
        {
          "data": {"name": "curves"},
          "transform": [{"filter": "datum.model == 'Kerr'"}],
          "mark": {"type": "line", "strokeWidth": 1, "clip": true},
          "encoding": {
            "x": {"field": "harmonic", "type": "quantitative", "scale": {"domain": [0, 9.95], "nice": false, "zero": false}, "axis": {"values": [1, 3, 5, 7, 9], "title": null, "grid": true}},
            "y": {"field": "power", "type": "quantitative", "scale": {"type": "log", "domain": [1e-36, 10], "nice": false}, "axis": {"orient": "right", "title": null, "grid": true, "values": [1e-36, 1e-33, 1e-30, 1e-27, 1e-24, 1e-21, 1e-18, 1e-15, 1e-12, 1e-9, 1e-6, 1e-3, 1], "labelExpr": "(round(log(datum.value)/LN10) % 6 != 0) ? '' : round(log(datum.value)/LN10) == 0 ? '10⁰' : round(log(datum.value)/LN10) == -6 ? '10⁻⁶' : round(log(datum.value)/LN10) == -12 ? '10⁻¹²' : round(log(datum.value)/LN10) == -18 ? '10⁻¹⁸' : round(log(datum.value)/LN10) == -24 ? '10⁻²⁴' : round(log(datum.value)/LN10) == -30 ? '10⁻³⁰' : '10⁻³⁶'"}},
            "color": {"field": "model", "type": "nominal"},
            "strokeDash": {"field": "model", "type": "nominal"}
          }
        },
        {
          "data": {"name": "curves"},
          "transform": [{"filter": "datum.model == 'two-level'"}],
          "mark": {"type": "line", "strokeWidth": 1.3, "clip": true},
          "encoding": {
            "x": {"field": "harmonic", "type": "quantitative", "scale": {"domain": [0, 9.95], "nice": false, "zero": false}},
            "y": {"field": "power", "type": "quantitative", "scale": {"type": "log", "domain": [1e-36, 10], "nice": false}},
            "color": {"field": "model", "type": "nominal"},
            "strokeDash": {"field": "model", "type": "nominal"}
          }
        },
        {
          "data": {"name": "curves"},
          "transform": [{"filter": "datum.model == 'anharmonic'"}],
          "mark": {"type": "line", "strokeWidth": 2, "clip": true},
          "encoding": {
            "x": {"field": "harmonic", "type": "quantitative", "scale": {"domain": [0, 9.95], "nice": false, "zero": false}},
            "y": {"field": "power", "type": "quantitative", "scale": {"type": "log", "domain": [1e-36, 10], "nice": false}},
            "color": {"field": "model", "type": "nominal"},
            "strokeDash": {"field": "model", "type": "nominal"}
          }
        },
        {
          "data": {"name": "zoom"},
          "mark": {"type": "rect", "fill": "transparent", "stroke": "#888", "strokeWidth": 1},
          "encoding": {
            "x": {"field": "x1", "type": "quantitative", "scale": {"domain": [0, 9.95], "nice": false, "zero": false}},
            "x2": {"field": "x2"},
            "y": {"field": "y1", "type": "quantitative", "scale": {"type": "log", "domain": [1e-36, 10], "nice": false}},
            "y2": {"field": "y2"}
          }
        },
        {
          "data": {"name": "connectors"},
          "mark": {"type": "rule", "color": "#888", "strokeWidth": 1},
          "encoding": {
            "x": {"field": "x1", "type": "quantitative", "scale": {"domain": [0, 9.95], "nice": false, "zero": false}},
            "x2": {"field": "x2"},
            "y": {"field": "y1", "type": "quantitative", "scale": {"type": "log", "domain": [1e-36, 10], "nice": false}},
            "y2": {"field": "y2"}
          }
        }
      ]
    },
    {
      "layer": [
        {
          "data": {"name": "zoom"},
          "mark": {"type": "rect", "fill": "white", "stroke": "#333", "strokeWidth": 1},
          "encoding": {
            "x": {"field": "x1", "type": "quantitative", "scale": {"domain": [1.0881, 2.2742], "nice": false, "zero": false}, "axis": null},
            "x2": {"field": "x2"},
            "y": {"field": "y1", "type": "quantitative", "scale": {"type": "log", "domain": [7.08e-46, 7.08e-24], "nice": false}, "axis": null},
            "y2": {"field": "y2"}
          }
        },
        {
          "data": {"name": "insetgridx"},
          "mark": {"type": "rule", "color": "#888", "strokeDash": [1, 2], "strokeWidth": 0.8},
          "encoding": {
            "x": {"field": "harmonic", "type": "quantitative", "scale": {"domain": [1.0881, 2.2742], "nice": false, "zero": false}, "axis": null},
            "y": {"field": "lo", "type": "quantitative", "scale": {"type": "log", "domain": [7.08e-46, 7.08e-24], "nice": false}, "axis": null},
            "y2": {"field": "hi"}
          }
        },
        {
          "data": {"name": "insetgridy"},
          "mark": {"type": "rule", "color": "#888", "strokeDash": [1, 2], "strokeWidth": 0.8},
          "encoding": {
            "y": {"field": "power", "type": "quantitative", "scale": {"type": "log", "domain": [7.08e-46, 7.08e-24], "nice": false}, "axis": null},
            "x": {"field": "from", "type": "quantitative", "scale": {"domain": [1.0881, 2.2742], "nice": false, "zero": false}, "axis": null},
            "x2": {"field": "to"}
          }
        },
        {
          "data": {"name": "curves"},
          "transform": [{"filter": "datum.model == 'Kerr' && datum.harmonic >= 1.755 && datum.harmonic <= 2.248"}],
          "mark": {"type": "line", "strokeWidth": 1},
          "encoding": {
            "x": {"field": "harmonic", "type": "quantitative", "scale": {"domain": [1.0881, 2.2742], "nice": false, "zero": false}, "axis": null},
            "y": {"field": "power", "type": "quantitative", "scale": {"type": "log", "domain": [7.08e-46, 7.08e-24], "nice": false}, "axis": null},
            "color": {"field": "model", "type": "nominal"},
            "strokeDash": {"field": "model", "type": "nominal"}
          }
        },
        {
          "data": {"name": "curves"},
          "transform": [{"filter": "datum.model == 'two-level' && datum.harmonic >= 1.755 && datum.harmonic <= 2.248"}],
          "mark": {"type": "line", "strokeWidth": 1.3},
          "encoding": {
            "x": {"field": "harmonic", "type": "quantitative", "scale": {"domain": [1.0881, 2.2742], "nice": false, "zero": false}, "axis": null},
            "y": {"field": "power", "type": "quantitative", "scale": {"type": "log", "domain": [7.08e-46, 7.08e-24], "nice": false}, "axis": null},
            "color": {"field": "model", "type": "nominal"},
            "strokeDash": {"field": "model", "type": "nominal"}
          }
        },
        {
          "data": {"name": "curves"},
          "transform": [{"filter": "datum.model == 'anharmonic' && datum.harmonic >= 1.755 && datum.harmonic <= 2.248"}],
          "mark": {"type": "line", "strokeWidth": 2},
          "encoding": {
            "x": {"field": "harmonic", "type": "quantitative", "scale": {"domain": [1.0881, 2.2742], "nice": false, "zero": false}, "axis": null},
            "y": {"field": "power", "type": "quantitative", "scale": {"type": "log", "domain": [7.08e-46, 7.08e-24], "nice": false}, "axis": null},
            "color": {"field": "model", "type": "nominal"},
            "strokeDash": {"field": "model", "type": "nominal"}
          }
        }
      ]
    }
  ]
}
]
}
